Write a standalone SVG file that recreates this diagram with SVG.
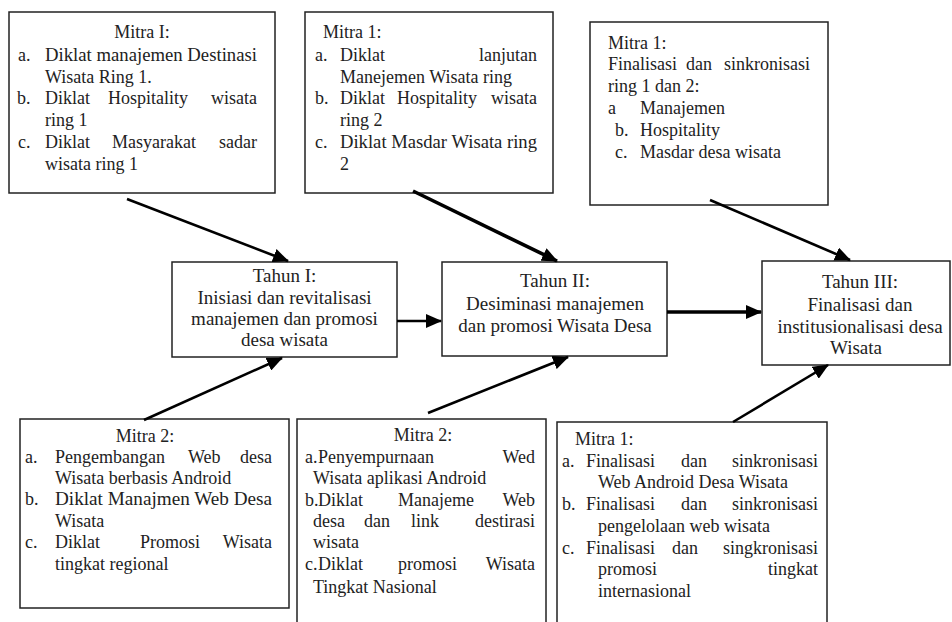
<svg xmlns="http://www.w3.org/2000/svg" width="952" height="622" viewBox="0 0 952 622">
<style>
.box{fill:#fff;stroke:#222;stroke-width:1.5}
text{font-family:"Liberation Serif","Times New Roman",serif;font-size:18px;fill:#222}
.mid text{font-size:19px}
.m{text-anchor:middle}
.e{text-anchor:end}
.c line{stroke:#000;stroke-width:2.6}
.c .t{stroke-width:3.6}
</style>
<defs>
<marker id="ah" markerUnits="userSpaceOnUse" markerWidth="16" markerHeight="14" refX="15" refY="7" orient="auto">
<path d="M0,0 L16,7 L0,14 Z" fill="#000"/>
</marker>
</defs>
<rect width="952" height="622" fill="#fff"/>

<g id="top1">
<rect class="box" x="9" y="12" width="266" height="181"/>
<text class="m" x="142" y="38">Mitra I:</text>
<text x="18" y="61">a.</text><text x="45" y="61" textLength="212" lengthAdjust="spacingAndGlyphs">Diklat manajemen Destinasi</text>
<text x="45" y="83">Wisata Ring 1.</text>
<text x="17" y="104">b.</text><text x="45" y="104">Diklat</text><text x="108" y="104">Hospitality</text><text class="e" x="257" y="104">wisata</text>
<text x="45" y="126">ring 1</text>
<text x="18" y="148">c.</text><text x="45" y="148">Diklat</text><text x="112" y="148">Masyarakat</text><text class="e" x="257" y="148">sadar</text>
<text x="45" y="170">wisata ring 1</text>
</g>

<g id="top2">
<rect class="box" x="305" y="12" width="248" height="181"/>
<text x="323" y="38">Mitra 1:</text>
<text x="315" y="61">a.</text><text x="340" y="61">Diklat</text><text class="e" x="537" y="61">lanjutan</text>
<text x="340" y="83">Manejemen Wisata ring</text>
<text x="315" y="104">b.</text><text x="340" y="104">Diklat</text><text x="397" y="104">Hospitality</text><text class="e" x="537" y="104">wisata</text>
<text x="340" y="126">ring 2</text>
<text x="315" y="148">c.</text><text x="340" y="148" textLength="197" lengthAdjust="spacingAndGlyphs">Diklat Masdar Wisata ring</text>
<text x="340" y="170">2</text>
</g>

<g id="top3">
<rect class="box" x="590" y="22" width="238" height="183"/>
<text x="608" y="49">Mitra 1:</text>
<text x="608" y="70">Finalisasi</text><text x="686" y="70">dan</text><text class="e" x="810" y="70">sinkronisasi</text>
<text x="608" y="92">ring 1 dan 2:</text>
<text x="608" y="114">a</text><text x="640" y="114">Manajemen</text>
<text x="615" y="136">b.</text><text x="640" y="136">Hospitality</text>
<text x="615" y="158">c.</text><text x="640" y="158">Masdar desa wisata</text>
</g>

<g id="tahun1" class="mid">
<rect class="box" x="172" y="262" width="225" height="95"/>
<text class="m" x="284.5" y="282">Tahun I:</text>
<text class="m" x="284.5" y="304">Inisiasi dan revitalisasi</text>
<text class="m" x="284.5" y="325">manajemen dan promosi</text>
<text class="m" x="284.5" y="346">desa wisata</text>
</g>

<g id="tahun2" class="mid">
<rect class="box" x="442" y="262" width="225" height="94"/>
<text class="m" x="555" y="287">Tahun II:</text>
<text class="m" x="555" y="310">Desiminasi manajemen</text>
<text class="m" x="555" y="332">dan promosi Wisata Desa</text>
</g>

<g id="tahun3" class="mid">
<rect class="box" x="762" y="261" width="188" height="104"/>
<text class="m" x="860" y="288">Tahun III:</text>
<text class="m" x="860" y="311">Finalisasi dan</text>
<text class="m" x="860" y="333">institusionalisasi desa</text>
<text class="m" x="856" y="354">Wisata</text>
</g>

<g id="bottom1">
<rect class="box" x="20" y="419" width="269" height="189"/>
<text class="m" x="145" y="442">Mitra 2:</text>
<text x="25" y="463">a.</text><text x="55" y="463">Pengembangan</text><text x="188" y="463">Web</text><text class="e" x="272" y="463">desa</text>
<text x="55" y="484">Wisata berbasis Android</text>
<text x="25" y="505">b.</text><text x="55" y="505" textLength="217" lengthAdjust="spacingAndGlyphs">Diklat Manajmen Web Desa</text>
<text x="55" y="527">Wisata</text>
<text x="25" y="548">c.</text><text x="55" y="548">Diklat</text><text x="140" y="548">Promosi</text><text class="e" x="272" y="548">Wisata</text>
<text x="55" y="570">tingkat regional</text>
</g>

<g id="bottom2">
<rect class="box" x="297" y="419" width="249" height="210"/>
<text class="m" x="423" y="441">Mitra 2:</text>
<text x="305" y="463">a.</text><text x="318" y="463">Penyempurnaan</text><text class="e" x="535" y="463">Wed</text>
<text x="313" y="484">Wisata aplikasi Android</text>
<text x="305" y="506">b.</text><text x="318" y="506">Diklat</text><text x="398" y="506">Manajeme</text><text class="e" x="535" y="506">Web</text>
<text x="313" y="527">desa</text><text x="364" y="527">dan</text><text x="411" y="527">link</text><text class="e" x="535" y="527">destirasi</text>
<text x="313" y="548">wisata</text>
<text x="305" y="570">c.</text><text x="318" y="570">Diklat</text><text x="398" y="570">promosi</text><text class="e" x="535" y="570">Wisata</text>
<text x="313" y="593">Tingkat Nasional</text>
</g>

<g id="bottom3">
<rect class="box" x="557" y="422" width="270" height="210"/>
<text x="575" y="445">Mitra 1:</text>
<text x="562" y="467">a.</text><text x="586" y="467">Finalisasi</text><text x="681" y="467">dan</text><text class="e" x="818" y="467">sinkronisasi</text>
<text x="598" y="488">Web Android Desa Wisata</text>
<text x="562" y="510">b.</text><text x="586" y="510">Finalisasi</text><text x="681" y="510">dan</text><text class="e" x="818" y="510">sinkronisasi</text>
<text x="598" y="532">pengelolaan web wisata</text>
<text x="562" y="554">c.</text><text x="586" y="554">Finalisasi</text><text x="672" y="554">dan</text><text class="e" x="818" y="554">singkronisasi</text>
<text x="598" y="575">promosi</text><text class="e" x="818" y="575">tingkat</text>
<text x="598" y="597">internasional</text>
</g>

<g id="connectors" class="c">
<line x1="127" y1="199" x2="288" y2="261" marker-end="url(#ah)"/>
<line class="t" x1="413" y1="191" x2="557" y2="261" marker-end="url(#ah)"/>
<line x1="710" y1="200" x2="850" y2="260" marker-end="url(#ah)"/>
<line x1="397" y1="321" x2="441" y2="321" marker-end="url(#ah)"/>
<line class="t" x1="667" y1="312" x2="761" y2="312" marker-end="url(#ah)"/>
<line x1="144" y1="420" x2="282" y2="358" marker-end="url(#ah)"/>
<line x1="428" y1="413" x2="568" y2="357" marker-end="url(#ah)"/>
<line x1="733" y1="422" x2="828" y2="365" marker-end="url(#ah)"/>
</g>
</svg>
